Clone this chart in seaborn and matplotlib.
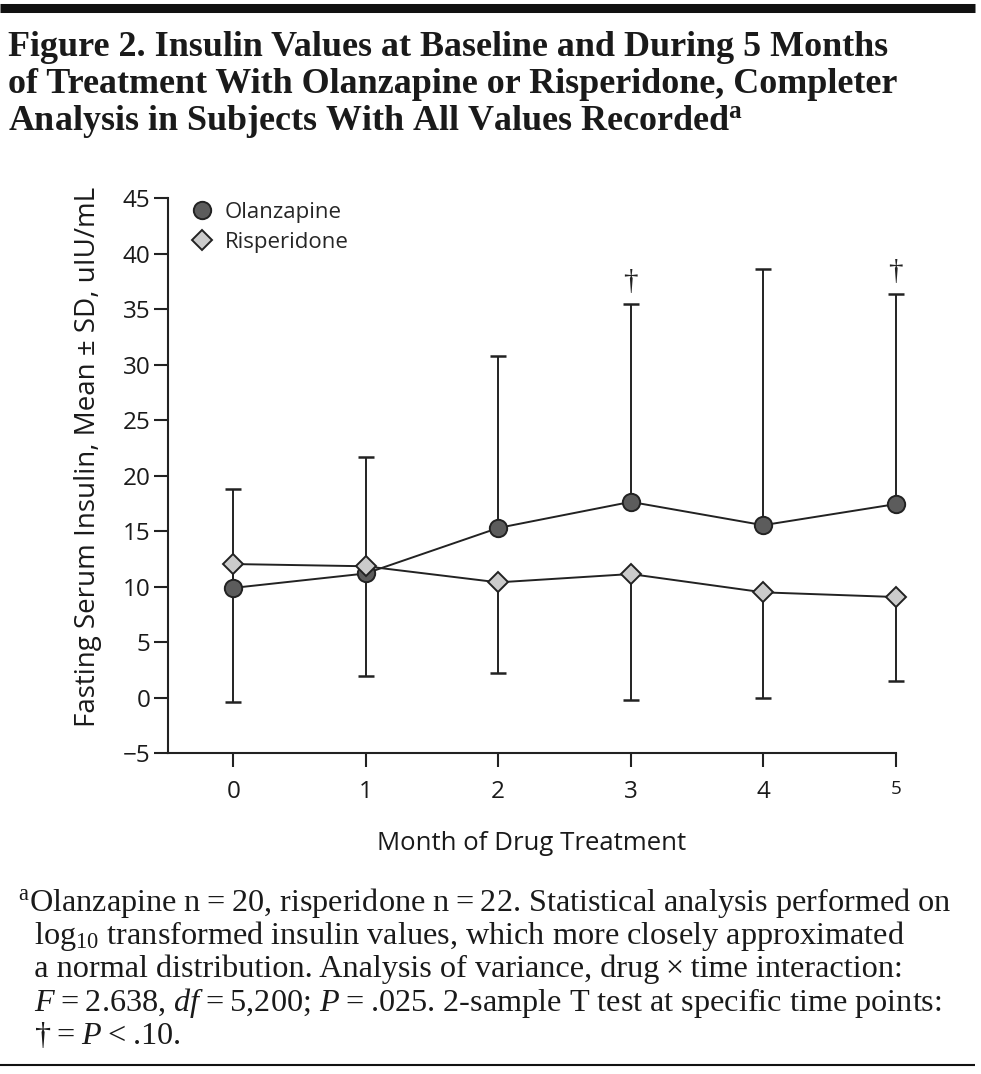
import matplotlib
matplotlib.use("Agg")
import matplotlib.pyplot as plt
import seaborn as sns
import numpy as np
import pandas as pd
from matplotlib.lines import Line2D

months = [0, 1, 2, 3, 4, 5]
olanzapine_mean = [9.9, 11.2, 15.3, 17.65, 15.55, 17.45]
olanzapine_sd = [8.95, 10.5, 15.5, 17.8, 23.05, 18.9]
risperidone_mean = [12.05, 11.85, 10.4, 11.15, 9.5, 9.08]
risperidone_sd = [12.4, 9.9, 8.2, 11.35, 9.55, 7.55]
dagger_months = [3, 5]
ytick_vals = [-5, 0, 5, 10, 15, 20, 25, 30, 35, 40, 45]

sns.set_theme(style="white")
plt.rcParams['font.family'] = ['Open Sans', 'DejaVu Sans']
plt.rcParams['mathtext.fontset'] = 'custom'
plt.rcParams['mathtext.rm'] = 'Liberation Serif'
plt.rcParams['mathtext.it'] = 'Liberation Serif:italic'

df = pd.DataFrame({
    "month": months * 2,
    "value": olanzapine_mean + risperidone_mean,
    "drug": ["Olanzapine"] * 6 + ["Risperidone"] * 6,
})

W, H = 981, 1074
fig = plt.figure(figsize=(W / 100, H / 100), dpi=100)
ax = fig.add_axes([168.3 / W, 1 - 753.3 / H, (895.7 - 168.3) / W, (753.3 - 198.3) / H])

dark = "#222222"
txt = "#1a1a1a"
for mean, sd, up in [(olanzapine_mean, olanzapine_sd, True),
                     (risperidone_mean, risperidone_sd, False)]:
    z = np.zeros(len(mean))
    yerr = [z, np.array(sd)] if up else [np.array(sd), z]
    eb = ax.errorbar(months, mean, yerr=yerr, fmt="none", ecolor=dark,
                     elinewidth=1.4, capsize=6, capthick=1.8, zorder=2)
    for art in eb.lines[1] + eb.lines[2]:
        art.set_clip_on(False)

sns.lineplot(data=df, x="month", y="value", hue="drug", style="drug",
             palette={"Olanzapine": dark, "Risperidone": dark},
             markers={"Olanzapine": "o", "Risperidone": "D"},
             dashes=False, linewidth=1.4, ax=ax, legend=False, zorder=3)
for line, fc, ms in zip(ax.lines[-2:], ["#5c5c5c", "#cbcbcb"], [12.5, 10.5]):
    line.set_markerfacecolor(fc)
    line.set_markeredgecolor(dark)
    line.set_markeredgewidth(1.4)
    line.set_markersize(ms)
    line.set_clip_on(False)

for m in dagger_months:
    top = olanzapine_mean[m] + olanzapine_sd[m]
    ax.text(m, top + 0.8, "\u2020", ha="center", va="bottom",
            fontsize=21, family=["Liberation Serif", "DejaVu Serif"], color=dark)

ax.set_xlim(-0.49, 5)
ax.set_ylim(-5, 45)
ax.set_xticks(months)
ax.set_yticks(ytick_vals)
ax.set_yticklabels(["\u22125" if v < 0 else str(v) for v in ytick_vals])
ax.tick_params(axis="both", direction="out", length=10, width=1.5, color=dark,
               labelsize=17.5, labelcolor=txt, pad=3, left=True, bottom=True)
ax.tick_params(axis="x", pad=9)
for lab in ax.get_xticklabels():
    if lab.get_text() == "5":
        lab.set_fontsize(13.5)
for s in ["top", "right"]:
    ax.spines[s].set_visible(False)
for s in ["left", "bottom"]:
    ax.spines[s].set_color(dark)
    ax.spines[s].set_linewidth(1.5)

ax.set_xlabel("Month of Drug Treatment", fontsize=18.5, color=txt, labelpad=20)
ax.set_ylabel("Fasting Serum Insulin, Mean \u00b1 SD, uIU/mL", fontsize=20, color=txt)
ax.yaxis.set_label_coords(-0.0915, 0.534)

handles = [Line2D([], [], marker="o", ls="none", mfc="#5c5c5c", mec=dark, mew=1.4, ms=12.5),
           Line2D([], [], marker="D", ls="none", mfc="#cbcbcb", mec=dark, mew=1.4, ms=10.5)]
ax.legend(handles, ["Olanzapine", "Risperidone"], loc="upper left",
          bbox_to_anchor=(-0.005, 1.03), frameon=False, fontsize=16,
          handletextpad=0.2, labelspacing=0.42, borderaxespad=0.5, handlelength=1.6)

serif = ["Liberation Serif", "DejaVu Serif"]
fig.add_artist(Line2D([0, 975 / W], [1 - 7.5 / H] * 2, color="#111111", lw=6.5,
                      solid_capstyle="butt", transform=fig.transFigure))
fig.add_artist(Line2D([0, 975 / W], [1 - 1064.5 / H] * 2, color="#111111", lw=1.5,
                      solid_capstyle="butt", transform=fig.transFigure))
title_lines = ["Figure 2. Insulin Values at Baseline and During 5 Months",
               "of Treatment With Olanzapine or Risperidone, Completer",
               r"Analysis in Subjects With All Values Recorded$^{\mathregular{a}}$"]
for i, t in enumerate(title_lines):
    fig.text(8 / W, 1 - (56 + 37 * i) / H, t, fontsize=25.95, family=serif,
             fontweight="bold", color=txt, va="baseline", ha="left")

ts = "\u2009"
foot = [r"$^{\mathregular{a}}$Olanzapine n" + ts + "=" + ts + "20, risperidone n" + ts + "=" + ts
        + "22. Statistical analysis performed on",
        r"  log$_{\mathregular{10}}$ transformed insulin values, which more closely approximated",
        "  a normal distribution. Analysis of variance, drug" + ts + "\u00d7" + ts + "time interaction:",
        r"  $\mathit{F}$" + ts + "=" + ts + r"2.638, $\mathit{df}$" + ts + "=" + ts + r"5,200; $\mathit{P}$"
        + ts + "=" + ts + ".025. 2-sample T test at specific time points:",
        r"  †" + ts + "=" + ts + r"$\mathit{P}$" + ts + "<" + ts + ".10."]
for i, t in enumerate(foot):
    fig.text(18 / W, 1 - (911 + 33.2 * i) / H, t, fontsize=23.2, family=serif,
             color=txt, va="baseline", ha="left")

fig.savefig("out.png", dpi=100)
